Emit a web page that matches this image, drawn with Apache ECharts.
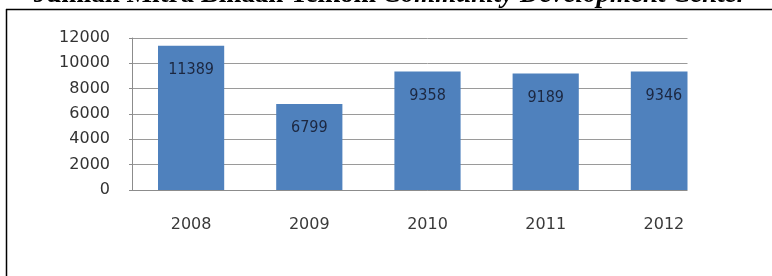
<!DOCTYPE html>
<html>
<head>
<meta charset="utf-8">
<script src="https://cdn.jsdelivr.net/npm/echarts@6/dist/echarts.min.js"></script>
<style>
  html, body { margin: 0; padding: 0; background: #fff; }
  #chart { width: 772px; height: 276px; }
</style>
</head>
<body>
<div id="chart"></div>
<script>
// data
const years = ['2008', '2009', '2010', '2011', '2012'];
const mitra = [11389, 6799, 9358, 9189, 9346];
const yTicks = [0, 2000, 4000, 6000, 8000, 10000, 12000];

const chart = echarts.init(document.getElementById('chart'), null, { renderer: 'canvas' });

const option = {
  animation: false,
  grid: {
    left: 132,
    right: 49,
    top: 38,
    bottom: 86,
    containLabel: false
  },
  xAxis: {
    type: 'category',
    data: years,
    axisLine: { show: true, lineStyle: { color: '#8c8c8c', width: 1 } },
    axisTick: { show: false },
    axisLabel: {
      margin: 27,
      fontFamily: 'DejaVu Sans',
      fontSize: 16,
      color: '#3a3a3a'
    }
  },
  yAxis: {
    type: 'value',
    min: yTicks[0],
    max: yTicks[yTicks.length - 1],
    interval: 2000,
    axisLine: { show: true, lineStyle: { color: '#8c8c8c', width: 1 } },
    axisTick: { show: true, length: 3, lineStyle: { color: '#8c8c8c' } },
    axisLabel: {
      margin: 22,
      fontFamily: 'DejaVu Sans',
      fontSize: 16,
      color: '#333',
      formatter: (v) => String(v)
    },
    splitLine: { show: true, lineStyle: { color: '#9a9a9a', width: 1 } }
  },
  series: [
    {
      name: 'Jumlah Mitra',
      type: 'bar',
      data: mitra,
      barWidth: '56%',
      itemStyle: { color: '#4f81bd' },
      label: {
        show: true,
        position: 'insideTop',
        distance: 16,
        fontFamily: 'DejaVu Sans Condensed',
        fontSize: 16,
        color: '#1c2740'
      }
    }
  ],
  graphic: [
    // page crop: the right side of the plot is cut off in the source
    {
      type: 'rect',
      z: 100,
      shape: { x: 687.5, y: 11, width: 90, height: 270 },
      style: { fill: '#fff' }
    },
    {
      type: 'line',
      z: 101,
      shape: { x1: 6, y1: 9.5, x2: 772, y2: 9.5 },
      style: { stroke: '#000', lineWidth: 1.5 }
    },
    {
      type: 'line',
      z: 101,
      shape: { x1: 6.5, y1: 9, x2: 6.5, y2: 276 },
      style: { stroke: '#000', lineWidth: 1.5 }
    },
    {
      type: 'text',
      z: 101,
      style: {
        x: 390,
        y: -5,
        align: 'center',
        verticalAlign: 'middle',
        text: '{a|Jumlah Mitra Binaan Telkom }{b|Community Development Center}',
        rich: {
          a: { fontFamily: 'Liberation Serif', fontWeight: 'bold', fontSize: 27, fill: '#000' },
          b: { fontFamily: 'Liberation Serif', fontWeight: 'bold', fontStyle: 'italic', fontSize: 27, fill: '#000' }
        }
      }
    }
  ]
};

chart.setOption(option);
</script>
</body>
</html>
